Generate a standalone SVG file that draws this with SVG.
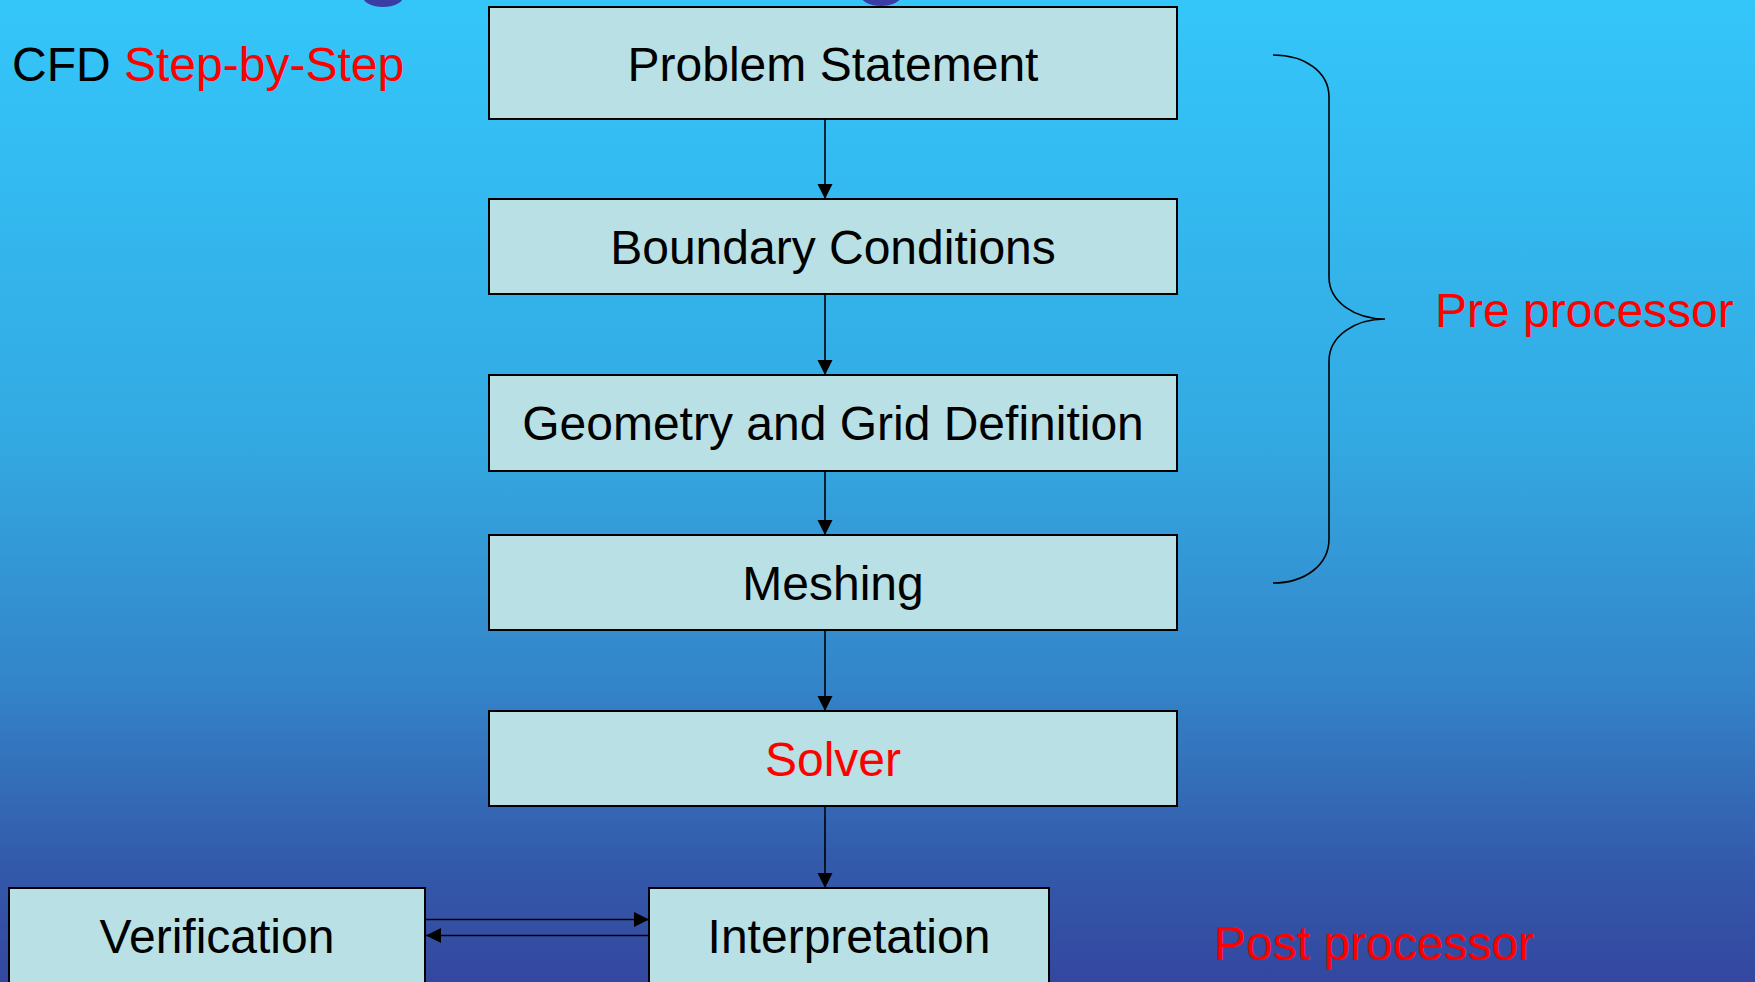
<svg xmlns="http://www.w3.org/2000/svg" width="1755" height="982" viewBox="0 0 1755 982">
<defs>
<linearGradient id="bg" x1="0" y1="0" x2="0" y2="1">
<stop offset="0" stop-color="#34C6FA"/>
<stop offset="0.45" stop-color="#33A9E2"/>
<stop offset="0.7" stop-color="#3384C9"/>
<stop offset="0.88" stop-color="#335AAA"/>
<stop offset="1" stop-color="#3447A0"/>
</linearGradient>
<marker id="ah" markerUnits="userSpaceOnUse" markerWidth="16" markerHeight="16" refX="15" refY="7.5" orient="auto">
<path d="M0,0 L15,7.5 L0,15 z" fill="#000"/>
</marker>
<style>
.box{fill:#B9E0E4;stroke:#000;stroke-width:2}
.t{font-family:"Liberation Sans",Arial,sans-serif;font-size:48px;fill:#000}
.c{text-anchor:middle}
.red{fill:#FF0000}
.conn{stroke:#000;stroke-width:1.6;fill:none}
</style>
</defs>
<rect x="0" y="0" width="1755" height="982" fill="url(#bg)"/>
<ellipse cx="383" cy="-3" rx="20" ry="10" fill="#3A3CA6"/>
<ellipse cx="881" cy="-4" rx="20" ry="10" fill="#3A3CA6"/>
<text class="t" x="12" y="81">CFD <tspan class="red">Step-by-Step</tspan></text>

<g id="connectors">
<line class="conn" x1="825" y1="119" x2="825" y2="199" marker-end="url(#ah)"/>
<line class="conn" x1="825" y1="294" x2="825" y2="375" marker-end="url(#ah)"/>
<line class="conn" x1="825" y1="471" x2="825" y2="535" marker-end="url(#ah)"/>
<line class="conn" x1="825" y1="630" x2="825" y2="711" marker-end="url(#ah)"/>
<line class="conn" x1="825" y1="806" x2="825" y2="888" marker-end="url(#ah)"/>
<line class="conn" x1="425" y1="919.5" x2="649" y2="919.5" marker-end="url(#ah)"/>
<line class="conn" x1="649" y1="935.5" x2="426" y2="935.5" marker-end="url(#ah)"/>
</g>

<g id="problem-statement">
<rect class="box" x="489" y="7" width="688" height="112"/>
<text class="t c" x="833" y="81">Problem Statement</text>
</g>
<g id="boundary-conditions">
<rect class="box" x="489" y="199" width="688" height="95"/>
<text class="t c" x="833" y="264">Boundary Conditions</text>
</g>
<g id="geometry-grid">
<rect class="box" x="489" y="375" width="688" height="96"/>
<text class="t c" x="833" y="440">Geometry and Grid Definition</text>
</g>
<g id="meshing">
<rect class="box" x="489" y="535" width="688" height="95"/>
<text class="t c" x="833" y="600">Meshing</text>
</g>
<g id="solver">
<rect class="box" x="489" y="711" width="688" height="95"/>
<text class="t c red" x="833" y="776">Solver</text>
</g>
<g id="verification">
<rect class="box" x="9" y="888" width="416" height="110"/>
<text class="t c" x="217" y="953">Verification</text>
</g>
<g id="interpretation">
<rect class="box" x="649" y="888" width="400" height="110"/>
<text class="t c" x="849" y="953">Interpretation</text>
</g>

<g id="pre-processor">
<path class="conn" d="M1273,55 C1305,55 1329,72 1329,97 L1329,277 C1329,302 1355,319 1385,319 C1355,319 1329,336 1329,361 L1329,539 C1329,565 1305,583 1273,583"/>
<text class="t red" x="1435" y="327">Pre processor</text>
</g>
<g id="post-processor">
<text class="t red" x="1214" y="960">Post processor</text>
</g>
</svg>
